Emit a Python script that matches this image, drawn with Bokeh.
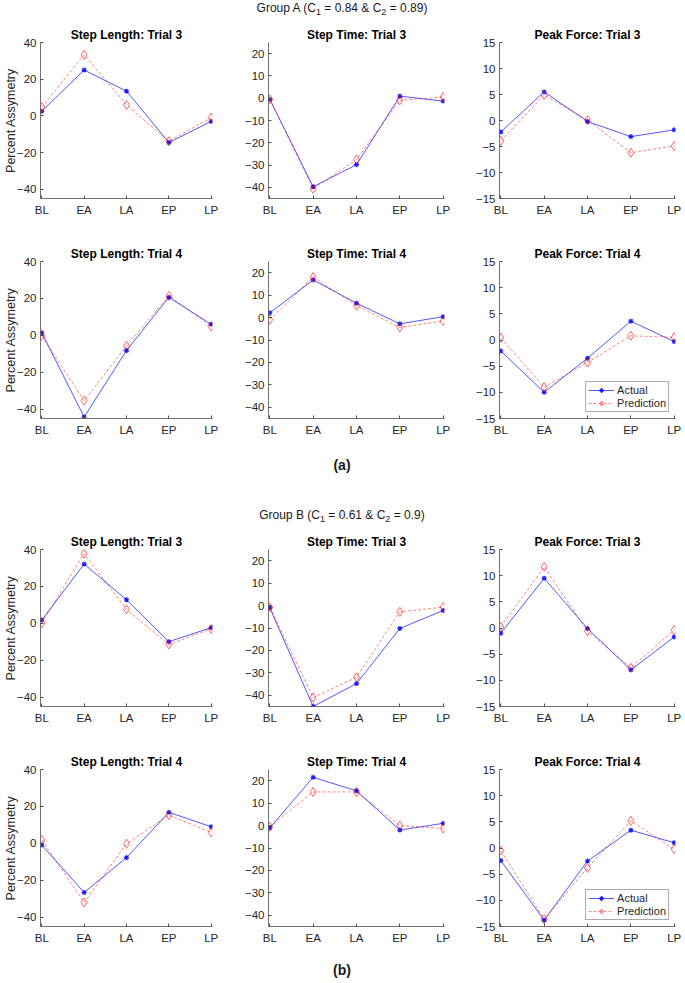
from bokeh.plotting import figure
from bokeh.layouts import column, row
from bokeh.models import Div, Range1d, FixedTicker, Legend, LegendItem
from bokeh.embed import file_html
from bokeh.resources import INLINE

cats = ["BL", "EA", "LA", "EP", "LP"]
xpos = [1, 2, 3, 4, 5]

sl_ticks = [-40, -20, 0, 20, 40]
st_ticks = [-40, -30, -20, -10, 0, 10, 20]
pf_ticks = [-15, -10, -5, 0, 5, 10, 15]
sl_range = (-45, 40)
st_range = (-45, 25)
pf_range = (-15, 15)

# Group A
a_sl3_act = [2.5, 25.0, 13.5, -14.5, -3.0]
a_sl3_pred = [4.8, 33.3, 6.0, -13.8, -1.0]
a_st3_act = [-0.5, -39.7, -29.8, 0.9, -1.3]
a_st3_pred = [-0.5, -40.7, -27.5, -0.9, 0.5]
a_pf3_act = [-2.2, 5.5, -0.2, -3.1, -1.8]
a_pf3_pred = [-3.9, 4.9, 0.1, -6.2, -4.9]
a_sl4_act = [1.4, -44.2, -8.2, 20.6, 6.0]
a_sl4_pred = [-0.2, -35.4, -5.7, 21.4, 4.8]
a_st4_act = [2.1, 16.8, 6.4, -2.8, 0.4]
a_st4_pred = [-0.9, 18.1, 5.3, -4.4, -1.5]
a_pf4_act = [-2.1, -10.0, -3.5, 3.6, -0.3]
a_pf4_pred = [0.4, -9.0, -4.3, 0.8, 0.5]
# Group B
b_sl3_act = [1.8, 32.1, 12.8, -9.9, -2.3]
b_sl3_pred = [0.2, 37.8, 7.6, -11.4, -3.0]
b_st3_act = [-1.0, -45.0, -34.8, -10.2, -2.2]
b_st3_pred = [-0.7, -41.0, -32.0, -2.8, -0.7]
b_pf3_act = [-1.0, 9.5, -0.1, -8.0, -1.7]
b_pf3_pred = [0.2, 11.7, -0.6, -7.6, -0.4]
b_sl4_act = [-0.9, -26.6, -7.7, 16.8, 9.0]
b_sl4_pred = [1.8, -32.0, -0.2, 15.3, 5.9]
b_st4_act = [-1.0, 21.5, 15.5, -2.0, 1.0]
b_st4_pred = [-0.5, 15.0, 15.0, 0.0, -1.3]
b_pf4_act = [-2.4, -13.8, -2.5, 3.4, 1.0]
b_pf4_pred = [-0.5, -13.6, -3.8, 5.2, -0.2]

FONT = "Liberation Sans"
WIDTHS = [240, 230, 214]
LEFT = [34, 28, 29]
RIGHT = [28, 26, 9]
HEIGHTS = [216, 208, 216, 207]
TOP = [22, 25, 22, 26]
BOTTOM = [38, 26, 37, 24]
AXC = "#4d4d4d"
TXC = "#262626"


def panel(title, act, pred, yr, yticks, col, ri, legend=False):
    p = figure(width=WIDTHS[col], height=HEIGHTS[ri],
               x_range=Range1d(0.97, 5.03), y_range=Range1d(*yr),
               output_backend="svg", toolbar_location=None,
               min_border_left=LEFT[col], min_border_right=RIGHT[col],
               min_border_top=TOP[ri], min_border_bottom=BOTTOM[ri],
               title=title, background_fill_color="white",
               border_fill_color="white", margin=0)
    p.outline_line_color = None
    p.title.text_font = FONT
    p.title.text_font_size = "12px"
    p.title.text_font_style = "bold"
    p.title.text_color = "black"
    p.title.align = "center"
    p.title.standoff = 2
    p.xgrid.visible = False
    p.ygrid.visible = False
    p.xaxis.ticker = FixedTicker(ticks=xpos)
    p.xaxis.major_label_overrides = {x: c for x, c in zip(xpos, cats)}
    p.yaxis.ticker = FixedTicker(ticks=yticks)
    for ax in (p.xaxis, p.yaxis):
        ax.axis_line_color = AXC
        ax.axis_line_width = 0.8
        ax.major_tick_line_color = AXC
        ax.major_tick_in = 3
        ax.major_tick_out = 0
        ax.minor_tick_line_color = None
        ax.major_label_text_font = FONT
        ax.major_label_text_font_size = "11.5px"
        ax.major_label_text_color = TXC
    p.xaxis.major_label_standoff = 5
    p.yaxis.major_label_standoff = 4
    if col == 0:
        p.yaxis.axis_label = "Percent Assymetry"
        p.yaxis.axis_label_text_font = FONT
        p.yaxis.axis_label_text_font_size = "12.5px"
        p.yaxis.axis_label_text_font_style = "normal"
        p.yaxis.axis_label_text_color = TXC
        p.yaxis.axis_label_standoff = -4
    la = p.line(xpos, act, line_color="#0000ff", line_alpha=0.75, line_width=0.9)
    sa = p.scatter(xpos, act, marker="asterisk", size=5, line_color="#0000ff",
                   line_width=1.2, line_alpha=0.85)
    lp = p.line(xpos, pred, line_color="#ff0000", line_alpha=0.55, line_width=0.9,
                line_dash="3 2")
    sp = p.scatter(xpos, pred, marker="diamond", size=9, line_color="#ff0000",
                   line_alpha=0.6, fill_color=None)
    if legend:
        leg = Legend(items=[LegendItem(label="Actual", renderers=[la, sa]),
                            LegendItem(label="Prediction", renderers=[lp, sp])],
                     location="bottom_right")
        leg.margin = 6
        leg.padding = 2
        leg.spacing = 1
        leg.label_height = 12
        leg.glyph_height = 12
        leg.glyph_width = 26
        leg.label_standoff = 3
        leg.label_text_font = FONT
        leg.label_text_font_size = "11px"
        leg.label_text_color = TXC
        leg.border_line_color = "#555555"
        leg.border_line_width = 0.8
        leg.background_fill_alpha = 1.0
        p.add_layout(leg)
    return p


def txt(html, h, pad, size, bold=False, lh=14):
    w = "bold" if bold else "normal"
    return Div(text=(f'<div style="text-align:center;font-family:\'{FONT}\';font-size:{size}px;'
                     f'font-weight:{w};line-height:{lh}px;padding-top:{pad}px;color:#1a1a1a;'
                     f'width:684px;margin:0;">{html}</div>'),
               width=684, height=h, margin=0)


SUB = '<sub style="line-height:0;font-size:9px;vertical-align:-3px;">'
rowA1 = row(panel("Step Length: Trial 3", a_sl3_act, a_sl3_pred, sl_range, sl_ticks, 0, 0),
            panel("Step Time: Trial 3", a_st3_act, a_st3_pred, st_range, st_ticks, 1, 0),
            panel("Peak Force: Trial 3", a_pf3_act, a_pf3_pred, pf_range, pf_ticks, 2, 0))
rowA2 = row(panel("Step Length: Trial 4", a_sl4_act, a_sl4_pred, sl_range, sl_ticks, 0, 1),
            panel("Step Time: Trial 4", a_st4_act, a_st4_pred, st_range, st_ticks, 1, 1),
            panel("Peak Force: Trial 4", a_pf4_act, a_pf4_pred, pf_range, pf_ticks, 2, 1, legend=True))
rowB1 = row(panel("Step Length: Trial 3", b_sl3_act, b_sl3_pred, sl_range, sl_ticks, 0, 2),
            panel("Step Time: Trial 3", b_st3_act, b_st3_pred, st_range, st_ticks, 1, 2),
            panel("Peak Force: Trial 3", b_pf3_act, b_pf3_pred, pf_range, pf_ticks, 2, 2))
rowB2 = row(panel("Step Length: Trial 4", b_sl4_act, b_sl4_pred, sl_range, sl_ticks, 0, 3),
            panel("Step Time: Trial 4", b_st4_act, b_st4_pred, st_range, st_ticks, 1, 3),
            panel("Peak Force: Trial 4", b_pf4_act, b_pf4_pred, pf_range, pf_ticks, 2, 3, legend=True))

layout = column(
    txt(f"Group A (C{SUB}1</sub> = 0.84 &amp; C{SUB}2</sub> = 0.89)", 20, 0, 12),
    rowA1, rowA2,
    txt("(a)", 46, 13, 14, bold=True, lh=16),
    txt(f"Group B (C{SUB}1</sub> = 0.61 &amp; C{SUB}2</sub> = 0.9)", 37, 18, 12),
    rowB1, rowB2,
    txt("(b)", 32, 12, 14, bold=True, lh=16),
    spacing=0, margin=0,
)

open("out.html", "w").write(file_html(layout, INLINE))
